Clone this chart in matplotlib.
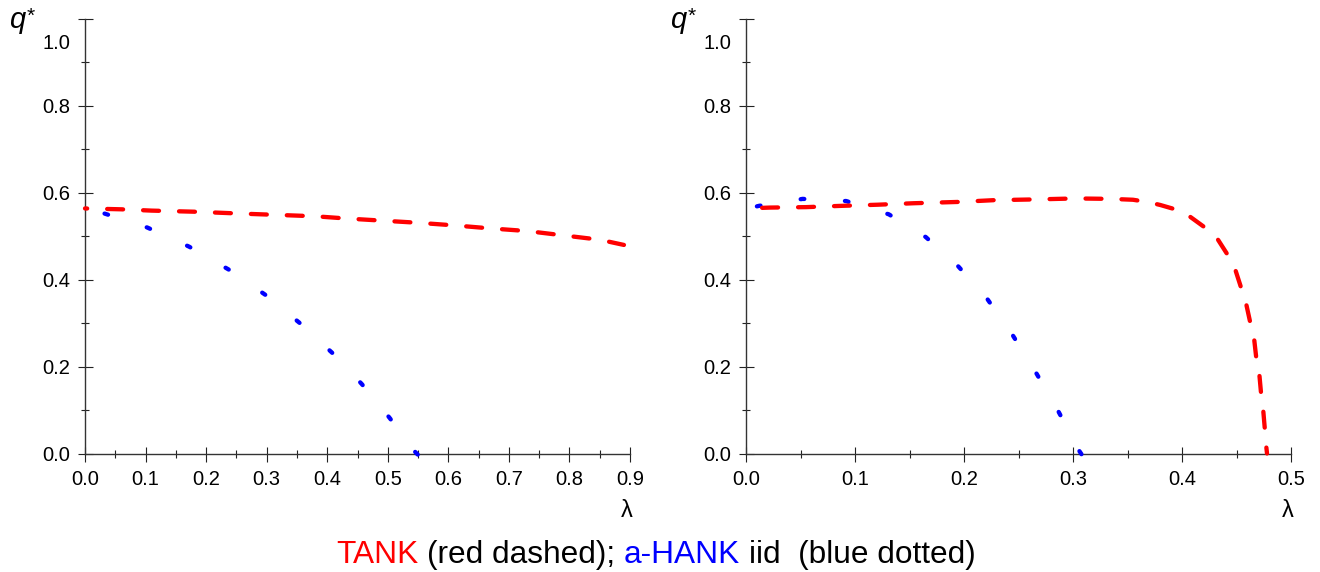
import matplotlib
matplotlib.use('Agg')
import matplotlib.pyplot as plt
from matplotlib.ticker import MultipleLocator, FixedLocator
from matplotlib.font_manager import FontProperties

plt.rcParams['font.family'] = ['Liberation Sans', 'DejaVu Sans']

# left panel
tank_l_x = [0.0, 0.06, 0.11, 0.18, 0.26, 0.32, 0.38, 0.43, 0.49, 0.55, 0.61, 0.67, 0.73, 0.79, 0.85, 0.89]
tank_l_q = [0.564, 0.562, 0.559, 0.5565, 0.552, 0.549, 0.546, 0.541, 0.536, 0.531, 0.525, 0.518, 0.512, 0.502, 0.492, 0.480]
hank_l_x = [0.0, 0.035, 0.103, 0.172, 0.239, 0.298, 0.354, 0.408, 0.457, 0.503, 0.545, 0.552]
hank_l_q = [0.566, 0.551, 0.520, 0.476, 0.422, 0.365, 0.301, 0.232, 0.160, 0.082, 0.004, -0.006]

# right panel
tank_r_x = [0.0, 0.022, 0.055, 0.088, 0.121, 0.154, 0.195, 0.227, 0.27, 0.302, 0.335, 0.355, 0.368,
            0.38, 0.391, 0.4065, 0.42, 0.4326, 0.441, 0.449, 0.4534, 0.459, 0.4623, 0.4663, 0.468, 0.471,
            0.4724, 0.4745, 0.4758, 0.4773, 0.478]
tank_r_q = [0.564, 0.566, 0.567, 0.570, 0.5726, 0.576, 0.579, 0.583, 0.585, 0.587, 0.586, 0.584, 0.579,
            0.572, 0.564, 0.5466, 0.522, 0.4937, 0.4607, 0.4223, 0.388, 0.343, 0.305, 0.261, 0.223, 0.181,
            0.142, 0.100, 0.062, 0.016, 0.0]
hank_r_x = [0.0, 0.012, 0.052, 0.092, 0.131, 0.165, 0.195, 0.221, 0.245, 0.267, 0.287, 0.306, 0.31]
hank_r_q = [0.563, 0.570, 0.586, 0.581, 0.5505, 0.498, 0.430, 0.357, 0.271, 0.182, 0.095, 0.005, -0.01]

x_max = [0.9, 0.5]
caption = ['TANK', '(red dashed);', 'a-HANK', 'iid  (blue dotted)']
caption_full = 'TANK (red dashed); a-HANK iid  (blue dotted)'
caption_colours = ['#ff0000', 'black', '#0000ff', 'black']

W, H = 1320, 572
fig = plt.figure(figsize=(W / 100, H / 100), dpi=100)

LW = 3.1
RED_DASH = (3.7, 4.65)
BLUE_DOT = (0.85, 9.45)

panels = [
    (85, tank_l_x, tank_l_q, 3.2, hank_l_x, hank_l_q, 5.55),
    (746, tank_r_x, tank_r_q, 4.6, hank_r_x, hank_r_q, 7.7),
]

TICK_FS = 14.5
for i, (x0, tx, tq, toff, hx, hq, hoff) in enumerate(panels):
    ax = fig.add_axes([x0 / W, 1 - 453.5 / H, 545 / W, 434.5 / H])
    ax.plot(hx, hq, color='#0000ff', lw=LW, linestyle=(hoff, BLUE_DOT),
            dash_capstyle='round', clip_on=False, zorder=3)
    ax.plot(tx, tq, color='#ff0000', lw=LW, linestyle=(toff, RED_DASH),
            dash_capstyle='round', clip_on=False, zorder=4)
    ax.set_xlim(0, x_max[i])
    ax.set_ylim(0, 1.0)
    for s in ['top', 'right']:
        ax.spines[s].set_visible(False)
    for s in ['left', 'bottom']:
        ax.spines[s].set_color('#333333')
        ax.spines[s].set_linewidth(1.0)
    ax.xaxis.set_major_locator(MultipleLocator(0.1))
    ax.xaxis.set_minor_locator(MultipleLocator(0.05))
    ax.xaxis.set_major_formatter(lambda v, p: '%.1f' % v)
    ax.yaxis.set_major_locator(FixedLocator([0, 0.2, 0.4, 0.6, 0.8, 1.0]))
    ax.yaxis.set_minor_locator(MultipleLocator(0.1))
    ax.yaxis.set_major_formatter(lambda v, p: '' if v > 0.9 else '%.1f' % v)
    ax.tick_params(which='major', direction='inout', length=10.8, width=0.8, color='#222222',
                   labelsize=TICK_FS)
    ax.tick_params(which='minor', direction='inout', length=5.8, width=0.8, color='#222222')
    ax.tick_params(axis='x', which='major', pad=6.5)
    ax.tick_params(axis='y', which='major', pad=5.4)
    ax.annotate('1.0', xy=(0, 1.0), xycoords=('axes fraction', 'data'),
                xytext=(-10.8, -16.0), textcoords='offset points',
                ha='right', va='center_baseline', fontsize=TICK_FS)
    ax.annotate('λ', xy=(1.0, 0), xycoords='axes fraction',
                xytext=(-2, -45.5), textcoords='offset points',
                ha='center', va='baseline', fontsize=17)
    # q* label: italic q with a raised asterisk
    fig.text((x0 - 76) / W, 1 - 28 / H, 'q', fontsize=21, style='italic', ha='left', va='baseline')
    fig.text((x0 - 58) / W, 1 - 22 / H, '*', fontsize=15, ha='left', va='baseline')

# caption in several colours, laid out by measuring ink widths
CAP_FS = 22.8
renderer = fig.canvas.get_renderer()
fp = FontProperties(family=['Liberation Sans'], size=CAP_FS)

def ink_w(s):
    w, h, d = renderer.get_text_width_height_descent(s, fp, ismath=False)
    return w

total = ink_w(caption_full)
start = 656 - total / 2
pos = 0
for k, piece in enumerate(caption):
    prefix = caption_full[:caption_full.index(piece, pos) + len(piece)]
    pos = len(prefix)
    x = start + ink_w(prefix) - ink_w(piece)
    fig.text(x / W, 1 - 563 / H, piece, color=caption_colours[k], fontproperties=fp,
             ha='left', va='baseline')

fig.savefig('out.png', dpi=100)
